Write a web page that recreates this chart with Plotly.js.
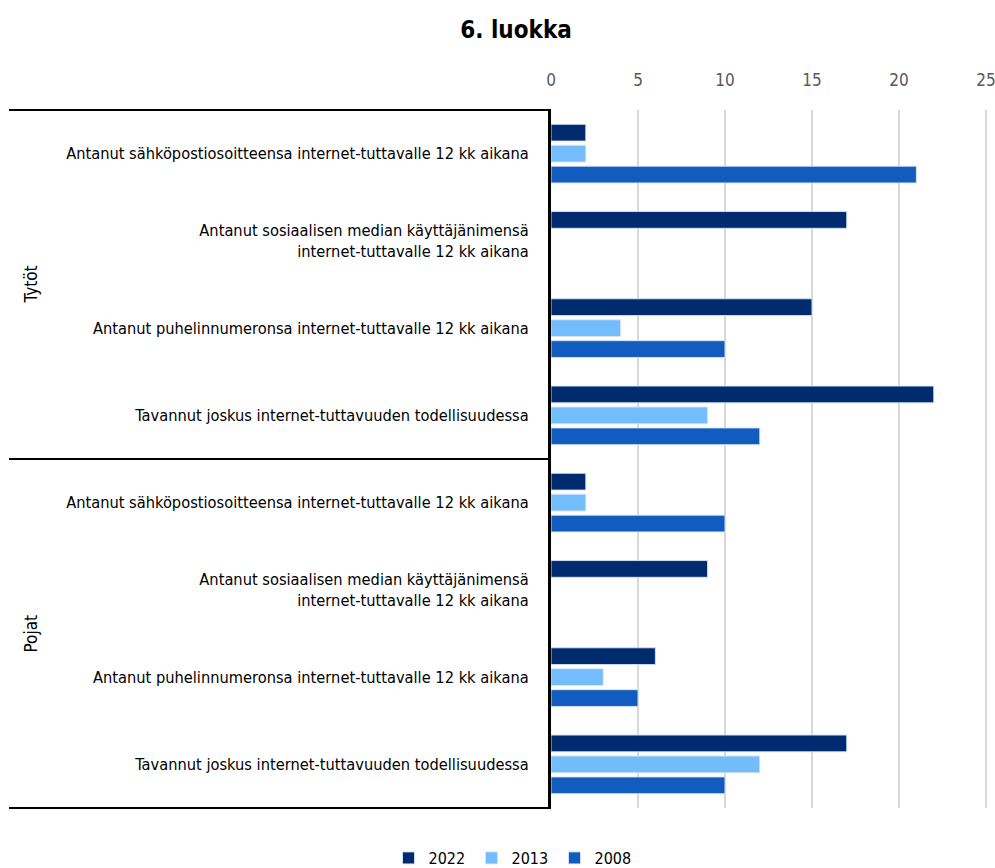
<!DOCTYPE html>
<html>
<head>
<meta charset="utf-8">
<script src="https://cdn.plot.ly/plotly-3.0.1.min.js"></script>
<style>html,body{margin:0;padding:0;background:#fff;}#chart{width:995px;height:868px;}</style>
</head>
<body>
<div id="chart"></div>
<script>
const groups = ["Tytöt", "Pojat"];
const items = [
  "Antanut sähköpostiosoitteensa internet-tuttavalle 12 kk aikana",
  "Antanut sosiaalisen median käyttäjänimensä<br>internet-tuttavalle 12 kk aikana",
  "Antanut puhelinnumeronsa internet-tuttavalle 12 kk aikana",
  "Tavannut joskus internet-tuttavuuden todellisuudessa"
];
const seriesNames = ["2022", "2013", "2008"];
const values2022 = [2, 17, 15, 22, 2, 9, 6, 17];
const values2013 = [2, null, 4, 9, 2, null, 3, 12];
const values2008 = [21, null, 10, 12, 10, null, 5, 10];
const colors = ["#002b6e", "#74bdfd", "#125bbf"];
const xTicks = [0, 5, 10, 15, 20, 25];

const FONT = "'DejaVu Sans Condensed', 'Liberation Sans Narrow', 'Roboto', sans-serif";

const cats = [];
const catLabels = [];
groups.forEach(g => items.forEach(it => { cats.push(g + "|" + it); catLabels.push(it); }));

const allVals = [values2022, values2013, values2008];
const traces = seriesNames.map((n, i) => ({
  type: "bar",
  orientation: "h",
  name: n,
  x: allVals[i],
  y: cats,
  marker: {color: colors[i], line: {color: "rgba(215,228,250,0.9)", width: 1}},
  hoverinfo: "x+name"
}));

const PW = 440;
const annotations = groups.map((g, i) => ({
  text: g,
  xref: "paper", yref: "paper",
  x: (30 - 551) / PW,
  y: 1 - (i + 0.5) / groups.length,
  showarrow: false,
  textangle: -90,
  xanchor: "center", yanchor: "middle",
  font: {family: FONT, size: 17, color: "#000"}
}));

const lineX0 = (9 - 551) / PW;
const shapes = [0, 0.5, 1].map(yy => ({
  type: "line", xref: "paper", yref: "paper",
  x0: lineX0, x1: 0, y0: yy, y1: yy,
  line: {color: "#000", width: 2}
}));

const layout = {
  width: 995, height: 868,
  margin: {l: 551, r: 4, t: 110, b: 60},
  paper_bgcolor: "#fff", plot_bgcolor: "#fff",
  title: {text: "<b>6. luokka</b>", x: 516 / 995, xanchor: "center", xref: "container", y: 1 - 30 / 868, yanchor: "middle", yref: "container",
          font: {family: FONT, size: 24, color: "#000"}},
  barmode: "group",
  bargap: 0.28,
  bargroupgap: 0.2,
  xaxis: {
    side: "top", range: [0, 25.29], tickvals: xTicks, ticktext: xTicks.map(String),
    showgrid: true, gridcolor: "#d9d9d9", gridwidth: 1.5, zeroline: false, showline: false,
    ticks: "", ticklabelstandoff: 20, ticklabeloverflow: "allow",
    tickfont: {family: FONT, size: 17, color: "#595959"}, fixedrange: true
  },
  yaxis: {
    type: "category", autorange: "reversed",
    tickvals: cats, ticktext: catLabels,
    showline: true, linecolor: "#000", linewidth: 3,
    showgrid: false, zeroline: false, ticks: "", ticklabelstandoff: 16,
    tickfont: {family: FONT, size: 16.3, color: "#000"}, fixedrange: true
  },
  legend: {orientation: "h", x: 513 / 995, xanchor: "center", xref: "container", y: 1 - 858 / 868, yanchor: "middle", yref: "container",
           font: {family: FONT, size: 16, color: "#000"}, itemwidth: 30, entrywidth: 38, traceorder: "normal"},
  annotations: annotations,
  shapes: shapes
};

Plotly.newPlot("chart", traces, layout, {displayModeBar: false, staticPlot: true});
</script>
</body>
</html>
